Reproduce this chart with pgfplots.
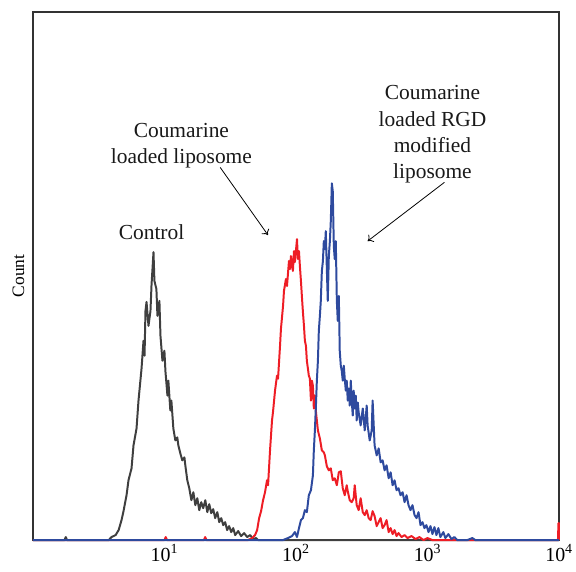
\documentclass[border=0pt]{standalone}
\usepackage{pgfplots}
\pgfplotsset{compat=1.18}
\usetikzlibrary{arrows.meta}
\usepackage{fontspec}
\setmainfont{Liberation Serif}
\definecolor{ctrlgray}{HTML}{3F3F3F}
\definecolor{lipred}{HTML}{EE1D25}
\definecolor{rgdblue}{HTML}{2E4A9E}

\begin{document}
\begin{tikzpicture}
\begin{axis}[
    name=ax,
    scale only axis,
    width=528bp, height=530bp,
    xmin=0, xmax=4,
    ymin=0, ymax=530,
    clip=false,
    axis line style={draw=black!80, line width=1.4pt},
    xtick={1,2,3,4},
    xticklabels={10\textsuperscript{1},10\textsuperscript{2},10\textsuperscript{3},10\textsuperscript{4}},
    xtick style={draw=none},
    ytick=\empty,
    ticklabel style={font=\fontsize{20bp}{24bp}\selectfont},
    xticklabel style={yshift=-1bp},
    ylabel={Count},
    ylabel style={font=\fontsize{17.5bp}{20bp}\selectfont, yshift=5bp},
    every axis plot/.append style={line width=2pt, line join=round},
    ]
    % control
    \addplot[color=ctrlgray] coordinates {
    (0,0)(0.24,0)(0.25,3)(0.26,0)(0.576,0)(0.598,3)(0.629,5)(0.652,10)(0.674,20)(0.689,29)
    (0.712,45)(0.727,60)(0.750,72)(0.765,95)(0.788,112)(0.803,140)(0.826,172)(0.841,200)
    (0.849,185)(0.856,230)(0.864,239)(0.879,215)(0.894,230)(0.902,256)(0.917,289)(0.924,260)
    (0.939,252)(0.947,225)(0.962,240)(0.970,205)(0.985,180)(1.000,190)(1.008,169)(1.023,145)
    (1.030,160)(1.045,130)(1.053,140)(1.068,112)(1.083,100)(1.098,103)(1.106,95)(1.121,87)
    (1.136,80)(1.152,83)(1.159,75)(1.174,60)(1.189,52)(1.205,40)(1.220,48)(1.235,35)
    (1.250,42)(1.265,30)(1.280,38)(1.295,32)(1.311,40)(1.326,28)(1.341,36)(1.356,27)
    (1.371,31)(1.386,22)(1.402,28)(1.417,18)(1.432,22)(1.447,15)(1.462,18)(1.477,10)
    (1.492,14)(1.508,8)(1.523,12)(1.538,5)(1.561,9)(1.583,4)(1.606,7)(1.629,3)(1.652,5)
    (1.674,1)(1.697,2)(1.712,0)(4,0)
    };
    % coumarine loaded liposome
    \addplot[color=lipred] coordinates {
    (0,0)(1.00,0)(1.01,3)(1.02,0)(1.30,0)(1.31,3)(1.32,0)
    (1.636,0)(1.667,2)(1.689,5)(1.705,10)(1.720,22)(1.735,29)(1.750,40)(1.765,48)(1.780,60)
    (1.788,55)(1.803,90)(1.818,120)(1.826,129)(1.841,150)(1.856,165)(1.864,162)(1.879,195)
    (1.886,212)(1.902,235)(1.909,250)(1.924,262)(1.932,255)(1.947,280)(1.955,272)(1.962,285)
    (1.977,270)(1.985,290)(1.992,279)(2.008,302)(2.015,282)(2.023,290)(2.030,275)(2.038,260)
    (2.045,245)(2.053,229)(2.061,215)(2.068,200)(2.076,195)(2.083,180)(2.091,172)(2.098,165)
    (2.106,162)(2.114,140)(2.121,160)(2.129,155)(2.136,132)(2.144,145)(2.152,129)(2.159,120)
    (2.167,110)(2.182,102)(2.197,90)(2.212,88)(2.220,85)(2.235,74)(2.250,70)(2.265,72)
    (2.280,60)(2.295,62)(2.311,55)(2.326,68)(2.341,69)(2.356,52)(2.371,45)(2.386,55)
    (2.394,49)(2.409,40)(2.424,38)(2.439,42)(2.447,55)(2.462,35)(2.477,30)(2.492,42)
    (2.508,28)(2.523,25)(2.538,30)(2.553,22)(2.568,20)(2.583,29)(2.598,24)(2.614,14)
    (2.629,18)(2.644,22)(2.659,12)(2.674,15)(2.689,20)(2.705,8)(2.720,12)(2.735,6)
    (2.750,10)(2.765,4)(2.780,7)(2.803,3)(2.826,5)(2.848,2)(2.879,4)(2.909,1)(2.939,3)
    (2.970,0)(3.000,2)(3.038,0)(3.992,0)(3.996,17)(4,17)(4,0)
    };
    % coumarine loaded RGD modified liposome
    \addplot[color=rgdblue] coordinates {
    (0,0)(1.902,0)(1.939,2)(1.970,4)(1.992,8)(2.008,3)(2.023,12)(2.038,20)(2.053,22)
    (2.068,30)(2.083,28)(2.098,45)(2.114,50)(2.129,65)(2.136,90)(2.144,110)(2.152,135)
    (2.159,160)(2.167,180)(2.174,210)(2.182,225)(2.189,240)(2.197,270)(2.205,280)(2.212,300)
    (2.220,292)(2.227,310)(2.235,272)(2.242,240)(2.250,285)(2.258,300)(2.265,320)(2.273,358)
    (2.280,350)(2.288,295)(2.295,282)(2.303,300)(2.311,240)(2.318,220)(2.326,245)(2.333,190)
    (2.341,175)(2.348,170)(2.356,160)(2.364,175)(2.371,162)(2.379,150)(2.386,160)(2.394,140)
    (2.402,152)(2.409,135)(2.417,160)(2.424,140)(2.432,125)(2.439,150)(2.447,132)(2.455,145)
    (2.462,120)(2.470,138)(2.477,128)(2.492,115)(2.508,132)(2.523,110)(2.538,135)(2.545,115)
    (2.561,100)(2.576,110)(2.583,140)(2.598,95)(2.614,85)(2.629,92)(2.644,78)(2.659,80)
    (2.674,70)(2.689,75)(2.705,62)(2.720,68)(2.735,55)(2.750,60)(2.765,50)(2.780,52)
    (2.795,45)(2.811,48)(2.826,38)(2.841,45)(2.856,35)(2.871,30)(2.886,35)(2.902,25)
    (2.917,22)(2.932,28)(2.947,15)(2.962,18)(2.977,12)(2.992,15)(3.008,8)(3.023,14)
    (3.038,6)(3.053,13)(3.068,5)(3.083,12)(3.098,3)(3.121,8)(3.136,2)(3.159,6)(3.182,1)
    (3.205,3)(3.227,0)(3.303,0)(3.341,2)(3.364,0)(4,0)
    };
    \begin{scope}[every node/.style={font=\fontsize{21.5bp}{26.5bp}\selectfont, align=center, text=black!90}]
    \node at (axis cs:0.902,309) {Control};
    \node at (axis cs:1.129,396) {Coumarine\\loaded liposome};
    \node at (axis cs:3.038,407) {Coumarine\\loaded RGD\\modified\\liposome};
    \end{scope}
    \draw[-{To[length=5bp,width=9bp]}, line width=0.8pt] (axis cs:1.424,374) -- (axis cs:1.788,306);
    \draw[-{To[length=5bp,width=9bp]}, line width=0.8pt] (axis cs:3.129,359) -- (axis cs:2.545,300);
\end{axis}
\path (ax.south west) ++(-33bp,-32bp) coordinate (bbl);
\path (ax.north east) ++(15bp,12bp) coordinate (bbr);
\path (bbl) rectangle (bbr);
\end{tikzpicture}
\end{document}
